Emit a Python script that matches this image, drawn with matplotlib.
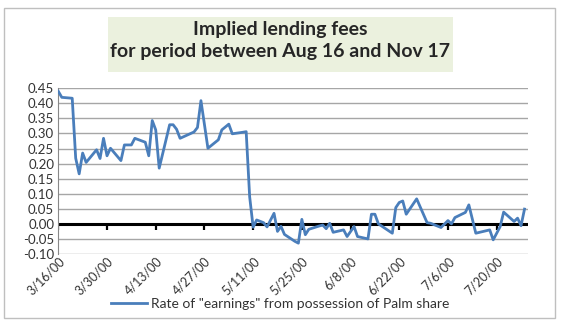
import matplotlib
matplotlib.use("Agg")
import matplotlib.pyplot as plt
import matplotlib.dates as mdates
from matplotlib.patches import Rectangle
from datetime import datetime, timedelta

# data
dates = [
    "3/16/00", "3/17/00", "3/20/00", "3/21/00", "3/22/00", "3/23/00", "3/24/00",
    "3/27/00", "3/28/00", "3/29/00", "3/30/00", "3/31/00", "4/3/00", "4/4/00",
    "4/6/00", "4/7/00", "4/10/00", "4/11/00", "4/12/00", "4/13/00", "4/14/00",
    "4/17/00", "4/18/00", "4/19/00", "4/20/00", "4/24/00", "4/25/00", "4/26/00",
    "4/28/00", "5/1/00", "5/2/00", "5/4/00", "5/5/00", "5/8/00", "5/9/00",
    "5/10/00", "5/11/00", "5/12/00", "5/14/00", "5/15/00", "5/17/00", "5/18/00",
    "5/19/00", "5/20/00", "5/23/00", "5/24/00", "5/25/00", "5/26/00", "5/27/00",
    "5/30/00", "5/31/00", "6/1/00", "6/2/00", "6/3/00", "6/6/00", "6/7/00",
    "6/9/00", "6/10/00", "6/13/00", "6/14/00", "6/15/00", "6/16/00", "6/20/00",
    "6/21/00", "6/22/00", "6/23/00", "6/24/00", "6/27/00", "6/30/00", "7/1/00",
    "7/4/00", "7/6/00", "7/7/00", "7/8/00", "7/11/00", "7/12/00", "7/14/00",
    "7/18/00", "7/19/00", "7/21/00", "7/22/00", "7/25/00", "7/26/00", "7/27/00",
    "7/28/00",
]
rate = [
    0.44, 0.42, 0.417, 0.218, 0.166, 0.235, 0.204,
    0.246, 0.217, 0.284, 0.226, 0.251, 0.21, 0.262,
    0.262, 0.284, 0.271, 0.226, 0.343, 0.312, 0.185,
    0.329, 0.329, 0.314, 0.284, 0.305, 0.32, 0.409,
    0.251, 0.279, 0.312, 0.331, 0.299, 0.304, 0.306,
    0.09, -0.011, 0.013, 0.004, -0.01, 0.035, -0.025,
    -0.008, -0.035, -0.058, -0.064, 0.015, -0.036, -0.018,
    -0.007, -0.004, -0.016, 0.002, -0.028, -0.02, -0.042,
    -0.009, -0.042, -0.05, 0.032, 0.032, 0.0, -0.031,
    0.054, 0.071, 0.076, 0.032, 0.083, 0.004, 0.002,
    -0.012, 0.011, 0.0, 0.021, 0.038, 0.063, -0.031,
    -0.02, -0.053, -0.009, 0.039, 0.008, 0.019, -0.006,
    0.049,
]
series_name = 'Rate of "earnings" from possession of Palm share'
title_lines = ["Implied lending fees", "for period between Aug 16 and Nov 17"]

x = [datetime.strptime(d, "%m/%d/%y") for d in dates]
x_start = x[0]
x_end = x_start + timedelta(days=135)
x_ticks = [x_start + timedelta(days=14 * i) for i in range(10)]

plt.rcParams["font.family"] = ["Lato", "DejaVu Sans"]

fig = plt.figure(figsize=(5.62, 3.23), dpi=100)
fig.patches.append(Rectangle((4 / 562, 5 / 323), 551 / 562, 310 / 323,
                             transform=fig.transFigure, fill=False,
                             edgecolor="#BFBFBF", linewidth=1))

# title box
fig.patches.append(Rectangle((108 / 562, 1 - 72 / 323), 345 / 562, 55 / 323,
                             transform=fig.transFigure, facecolor="#EBF1DE",
                             edgecolor="none"))
fig.text(280 / 562, 1 - 29 / 323, title_lines[0], ha="center", va="center",
         fontsize=14, fontweight="bold", color="#262626")
fig.text(280 / 562, 1 - 51 / 323, title_lines[1], ha="center", va="center",
         fontsize=14, fontweight="bold", color="#262626")

ax = fig.add_axes([58.3 / 562, 1 - 254 / 323, (528 - 58.3) / 562, (254 - 88.3) / 323])
ax.plot(x, rate, color="#4A7EBB", lw=2, label=series_name, zorder=3)
ax.axhline(0, color="black", lw=2.2, zorder=2)
ax.plot(x_ticks, [0] * len(x_ticks), ls="none", marker=3, ms=4, mew=1.6,
        color="black", zorder=2)

ax.set_xlim(x_start, x_end)
ax.set_ylim(-0.10, 0.45)
ax.set_yticks([i * 0.05 - 0.10 for i in range(12)])
ax.yaxis.set_major_formatter(plt.FormatStrFormatter("%.2f"))
ax.set_xticks(x_ticks)
ax.xaxis.set_major_formatter(mdates.DateFormatter("%-m/%-d/%y"))
ax.grid(axis="y", color="#A6A6A6", lw=1)
ax.set_axisbelow(True)
for s in ["top", "right", "bottom"]:
    ax.spines[s].set_visible(False)
ax.spines["left"].set_color("#888888")
ax.tick_params(axis="both", length=0, colors="#333333")
ax.tick_params(axis="y", pad=3, labelsize=9.5)
ax.tick_params(axis="x", pad=1, labelsize=9)
for lbl in ax.get_xticklabels():
    lbl.set_rotation(45)
    lbl.set_ha("right")
    lbl.set_rotation_mode("anchor")

fig.legend(loc="center", bbox_to_anchor=(280 / 562, 1 - 304 / 323), frameon=False,
           fontsize=10, handlelength=2.6, handletextpad=0.3, labelcolor="#333333")

fig.savefig("out.png", dpi=100)
